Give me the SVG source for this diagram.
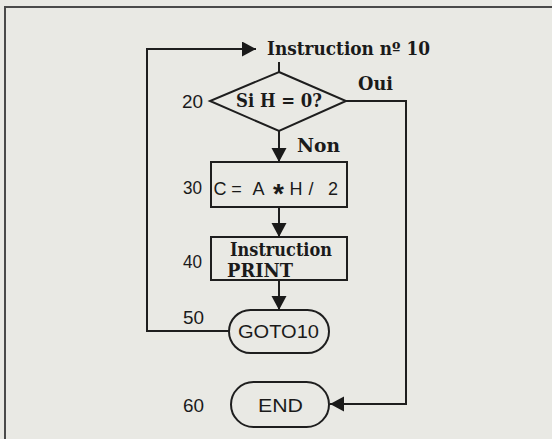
<svg xmlns="http://www.w3.org/2000/svg" width="552" height="439" viewBox="0 0 552 439">
  <style>
    .ln { fill: none; stroke: #1e1e1e; stroke-width: 2; }
    .shape { fill: none; stroke: #1e1e1e; stroke-width: 2; }
    .serif { font-family: "DejaVu Serif", "Liberation Serif", serif; font-size: 18px; font-weight: bold; fill: #1a1a1a; }
    .sans { font-family: "Liberation Sans", "DejaVu Sans", sans-serif; font-size: 18px; fill: #1a1a1a; }
    .num { font-family: "Liberation Sans", "DejaVu Sans", sans-serif; font-size: 18px; fill: #1a1a1a; }
  </style>
  <defs>
    <marker id="arrow" markerUnits="userSpaceOnUse" markerWidth="16" markerHeight="16" refX="14" refY="7.5" orient="auto">
      <path d="M0,0 L14,7.5 L0,15 Z" fill="#1a1a1a"/>
    </marker>
  </defs>
  <rect x="0" y="0" width="552" height="439" fill="#e9e9e4"/>
  <g id="frame">
    <path d="M5,439 V7 H552" fill="none" stroke="#4a4a4a" stroke-width="2"/>
  </g>

  <g id="connectors">
    <path class="ln" d="M229,331 H147 V49 H256" marker-end="url(#arrow)"/>
    <path class="ln" d="M279,62 V72"/>
    <path class="ln" d="M279,131 V162" marker-end="url(#arrow)"/>
    <path class="ln" d="M279,207 V237" marker-end="url(#arrow)"/>
    <path class="ln" d="M279,280 V310" marker-end="url(#arrow)"/>
    <path class="ln" d="M346,101 H406 V404 H330" marker-end="url(#arrow)"/>
    <text class="serif" x="358" y="90" textLength="35" lengthAdjust="spacingAndGlyphs">Oui</text>
    <text class="serif" x="297" y="152" textLength="43" lengthAdjust="spacingAndGlyphs">Non</text>
  </g>

  <g id="n10">
    <text class="serif" x="267" y="55" textLength="163" lengthAdjust="spacingAndGlyphs">Instruction nº 10</text>
  </g>

  <g id="n20">
    <path class="shape" d="M279,72 L346,101 L279,131 L210,101 Z"/>
    <text class="serif" x="236" y="107" textLength="86" lengthAdjust="spacingAndGlyphs">Si H = 0?</text>
    <text class="num" x="182" y="108" textLength="21" lengthAdjust="spacingAndGlyphs">20</text>
  </g>

  <g id="n30">
    <rect class="shape" x="211" y="162" width="136" height="45"/>
    <text class="sans" y="195" text-anchor="middle"><tspan x="220">C</tspan><tspan x="236.5">=</tspan><tspan x="258.5">A</tspan><tspan x="278.5" font-weight="bold" font-size="28" dy="8">*</tspan><tspan x="296" dy="-8">H</tspan><tspan x="311">/</tspan><tspan x="333">2</tspan></text>
    <text class="num" x="183" y="194" textLength="19" lengthAdjust="spacingAndGlyphs">30</text>
  </g>

  <g id="n40">
    <rect class="shape" x="211" y="237" width="136" height="43"/>
    <text class="serif" x="230" y="256" textLength="102" lengthAdjust="spacingAndGlyphs">Instruction</text>
    <text class="serif" x="227" y="277" textLength="66" lengthAdjust="spacingAndGlyphs">PRINT</text>
    <text class="num" x="183" y="268" textLength="19" lengthAdjust="spacingAndGlyphs">40</text>
  </g>

  <g id="n50">
    <rect class="shape" x="229" y="310" width="100" height="43" rx="21.5" ry="21.5"/>
    <text class="sans" x="238" y="338" font-size="20" textLength="81" lengthAdjust="spacingAndGlyphs">GOTO10</text>
    <text class="num" x="183" y="324" textLength="21" lengthAdjust="spacingAndGlyphs">50</text>
  </g>

  <g id="n60">
    <rect class="shape" x="231" y="382" width="98" height="45" rx="22.5" ry="22.5"/>
    <text class="sans" x="258" y="412" font-size="20" textLength="45" lengthAdjust="spacingAndGlyphs">END</text>
    <text class="num" x="183" y="412" textLength="21" lengthAdjust="spacingAndGlyphs">60</text>
  </g>
</svg>
